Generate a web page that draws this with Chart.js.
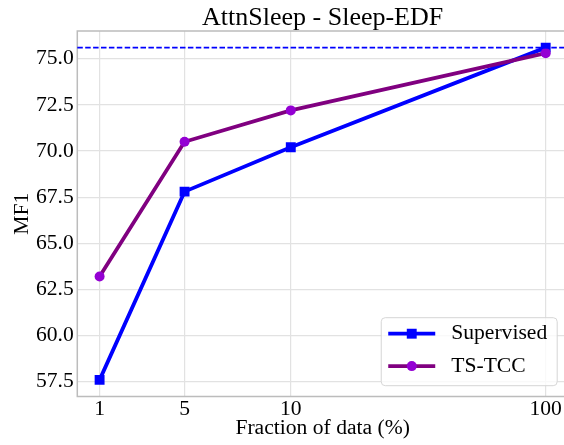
<!DOCTYPE html>
<html><head><meta charset="utf-8">
<script src="https://cdn.jsdelivr.net/npm/chart.js@4.4.1/dist/chart.umd.min.js"></script>
<style>
html,body{margin:0;padding:0;overflow:hidden;background:#fff;width:564px;height:445px}
#wrap{position:absolute;left:0;top:0;width:575px;height:445px}
</style>
</head><body><div id="wrap"><canvas id="c" width="575" height="445"></canvas></div>
<script>
// ---- data ----
const fractions = [1, 5, 10, 100];
const supervised = [57.6, 67.8, 70.2, 75.6];
const tsTcc = [63.2, 70.5, 72.2, 75.3];
const xTickValues = [1, 5, 10, 100];
const xTickLabels = ['1', '5', '10', '100'];
const yTickValues = [57.5, 60.0, 62.5, 65.0, 67.5, 70.0, 72.5, 75.0];
const seriesNames = ['Supervised', 'TS-TCC'];
const titleText = 'AttnSleep - Sleep-EDF';
const xTitle = 'Fraction of data (%)';
const yTitle = 'MF1';
const refValue = supervised[supervised.length - 1]; // dashed line: supervised with 100% data

// ---- symmetric-log style x scale (linear up to 10, logarithmic above) ----
const LIN = 10, DEC = 12;
function fwd(v){ return v <= LIN ? v : LIN + DEC * Math.log10(v / LIN); }
function inv(t){ return t <= LIN ? t : LIN * Math.pow(10, (t - LIN) / DEC); }
class SymlogScale extends Chart.LinearScale {
  determineDataLimits(){
    super.determineDataLimits();
    const a = fwd(this.min), b = fwd(this.max), m = (b - a) * 0.05;
    this.min = inv(a - m); this.max = inv(b + m);
  }
  buildTicks(){ return xTickValues.map(v => ({value: v})); }
  configure(){ super.configure(); this._t0 = fwd(this.min); this._t1 = fwd(this.max); }
  getPixelForValue(v){ return this.getPixelForDecimal((fwd(v) - this._t0) / (this._t1 - this._t0)); }
  getValueForPixel(p){ return inv(this._t0 + this.getDecimalForPixel(p) * (this._t1 - this._t0)); }
}
SymlogScale.id = 'symlog';
SymlogScale.defaults = {};
Chart.register(SymlogScale);

const FONT = 'Liberation Serif';
const FS = 21.6;
const gridColor = '#e2e2e2';

const framePlugin = {
  id: 'frame',
  beforeDatasetsDraw(chart){
    const {ctx, chartArea: a} = chart;
    ctx.save();
    ctx.strokeStyle = '#bcbcbc'; ctx.lineWidth = 1.5;
    ctx.beginPath();
    ctx.moveTo(a.right + 2, a.top); ctx.lineTo(a.left, a.top);
    ctx.lineTo(a.left, a.bottom); ctx.lineTo(a.right + 2, a.bottom);
    ctx.stroke();
    ctx.restore();
  }
};

const titlePlugin = {
  id: 'axTitle',
  afterDraw(chart){
    const {ctx, chartArea: a} = chart;
    ctx.save();
    ctx.font = '26px "' + FONT + '"';
    ctx.fillStyle = '#000'; ctx.textAlign = 'center'; ctx.textBaseline = 'alphabetic';
    ctx.fillText(titleText, (a.left + a.right) / 2, a.top - 6);
    ctx.restore();
  }
};

const refLinePlugin = {
  id: 'refline',
  afterDatasetsDraw(chart){
    const {ctx, chartArea: a, scales} = chart;
    const y = scales.y.getPixelForValue(refValue);
    ctx.save();
    ctx.strokeStyle = '#0000ff'; ctx.lineWidth = 1.7; ctx.setLineDash([5.5, 2.4]);
    ctx.beginPath(); ctx.moveTo(a.left, y); ctx.lineTo(a.right, y); ctx.stroke();
    ctx.restore();
  }
};

const legendPlugin = {
  id: 'customLegend',
  afterDraw(chart){
    const {ctx, chartArea: a} = chart;
    const ds = chart.data.datasets;
    ctx.save();
    ctx.font = FS + 'px "' + FONT + '"';
    let maxW = 0;
    ds.forEach(d => { maxW = Math.max(maxW, ctx.measureText(d.label).width); });
    const w = 70 + maxW + 10, h = 68;
    const right = a.right - 10.8, bottom = a.bottom - 10.8;
    const left = right - w, top = bottom - h;
    ctx.beginPath();
    ctx.roundRect(left, top, w, h, 4);
    ctx.fillStyle = 'rgba(255,255,255,0.8)'; ctx.fill();
    ctx.strokeStyle = '#d6d6d6'; ctx.lineWidth = 1; ctx.stroke();
    ds.forEach((d, i) => {
      const y = top + 16 + i * 32.4;
      ctx.strokeStyle = d.borderColor; ctx.lineWidth = d.borderWidth;
      ctx.beginPath(); ctx.moveTo(left + 7, y); ctx.lineTo(left + 54, y); ctx.stroke();
      ctx.fillStyle = d.pointBackgroundColor;
      ctx.beginPath();
      if (d.pointStyle === 'rect') { const s = d.pointRadius * Math.SQRT1_2; ctx.rect(left + 30.5 - s, y - s, 2 * s, 2 * s); }
      else { ctx.arc(left + 30.5, y, d.pointRadius, 0, Math.PI * 2); }
      ctx.fill();
      ctx.fillStyle = '#000'; ctx.textBaseline = 'middle'; ctx.textAlign = 'left';
      ctx.fillText(d.label, left + 70, y);
    });
    ctx.restore();
  }
};

new Chart(document.getElementById('c'), {
  type: 'line',
  data: {
    datasets: [
      { label: seriesNames[0], data: fractions.map((x, i) => ({x, y: supervised[i]})),
        borderColor: '#0000ff', backgroundColor: '#0000ff', pointBackgroundColor: '#0000ff',
        pointBorderColor: '#0000ff', pointStyle: 'rect', pointRadius: 7, pointBorderWidth: 0,
        borderWidth: 3.8, order: 1, tension: 0, fill: false },
      { label: seriesNames[1], data: fractions.map((x, i) => ({x, y: tsTcc[i]})),
        borderColor: '#800080', backgroundColor: '#9400d3', pointBackgroundColor: '#9400d3',
        pointBorderColor: '#9400d3', pointStyle: 'circle', pointRadius: 5, pointBorderWidth: 0,
        borderWidth: 3.8, order: 0, tension: 0, fill: false }
    ]
  },
  options: {
    responsive: false, animation: false, devicePixelRatio: 1,
    layout: {padding: {top: 31, left: 0, right: 0, bottom: 0}},
    events: [],
    plugins: {
      legend: {display: false}, tooltip: {enabled: false}, title: {display: false}
    },
    scales: {
      x: {
        type: 'symlog', position: 'bottom',
        grid: {color: gridColor, lineWidth: 1.2, drawTicks: false},
        border: {display: false},
        ticks: {autoSkip: false, maxRotation: 0, padding: 0, color: '#000',
          font: {family: FONT, size: FS},
          callback: (v) => xTickLabels[xTickValues.indexOf(v)] ?? ''},
        title: {display: true, text: xTitle, color: '#000', padding: {top: 0, bottom: 3.3},
          font: {family: FONT, size: FS, lineHeight: 1.2}},
        afterFit(s){ s.height = 48.5; s.paddingLeft = 0; s.paddingRight = 0; }
      },
      y: {
        type: 'linear', min: 56.7, max: 76.5,
        afterBuildTicks(s){ s.ticks = yTickValues.map(v => ({value: v})); },
        grid: {color: gridColor, lineWidth: 1.2, drawTicks: false},
        border: {display: false},
        ticks: {padding: 3.5, color: '#000', font: {family: FONT, size: FS},
          callback: (v) => Number(v).toFixed(1)},
        title: {display: true, text: yTitle, color: '#000', padding: {top: 9.8, bottom: 0},
          font: {family: FONT, size: FS, lineHeight: 1.2}},
        afterFit(s){ s.width = 77.3; s.paddingTop = 0; s.paddingBottom = 0; }
      }
    }
  },
  plugins: [framePlugin, refLinePlugin, legendPlugin, titlePlugin]
});
</script>
</body></html>
